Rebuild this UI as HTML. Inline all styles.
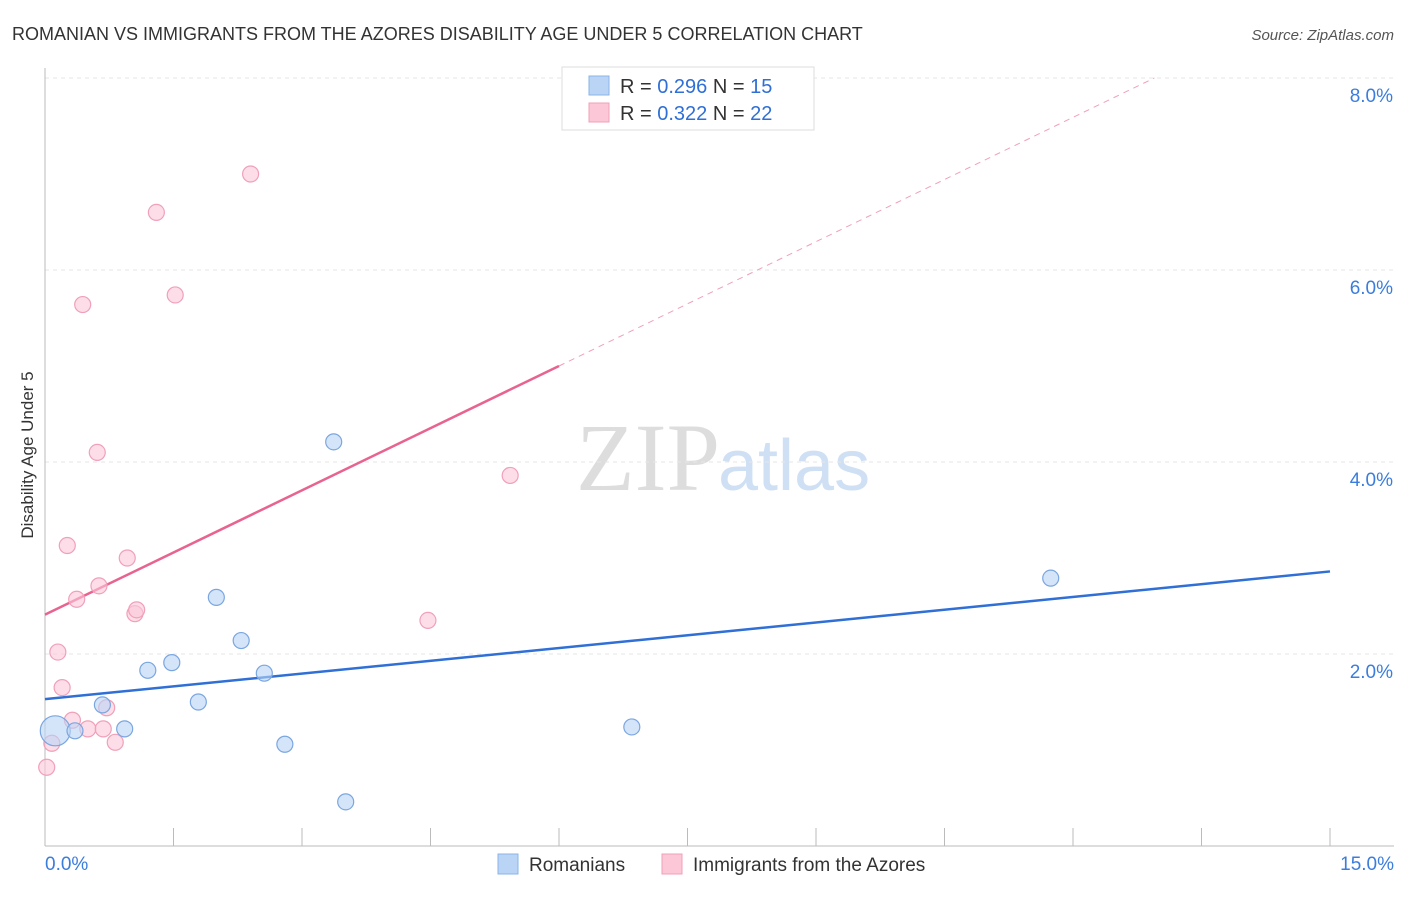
<!DOCTYPE html>
<html><head><meta charset="utf-8"><style>
body{margin:0;background:#fff;font-family:"Liberation Sans",sans-serif;}
</style></head><body>
<svg width="1406" height="892" xmlns="http://www.w3.org/2000/svg" font-family="Liberation Sans, sans-serif">
<text x="12" y="40" font-size="18" fill="#333">ROMANIAN VS IMMIGRANTS FROM THE AZORES DISABILITY AGE UNDER 5 CORRELATION CHART</text>
<text x="1394" y="40" font-size="15" fill="#555" text-anchor="end" font-style="italic">Source: ZipAtlas.com</text>
<text x="33" y="455" font-size="17" fill="#333" text-anchor="middle" transform="rotate(-90 33 455)">Disability Age Under 5</text>
<text x="720" y="490" font-size="96" fill="#ddd" text-anchor="end" font-family="Liberation Serif, serif">ZIP</text>
<text x="718" y="490" font-size="72" fill="#cfe0f5">atlas</text>
<g id="grid"></g><g id="axes"></g><g id="lines"></g><g id="points"></g>
<g>
<rect x="562" y="67" width="252" height="63" fill="#fff" stroke="#ddd"/>
<rect x="589" y="76" width="20" height="19" fill="#b9d4f5" stroke="#8ab3e6"/>
<text x="620" y="93" font-size="20" fill="#333">R = <tspan fill="#2f6fd6">0.296</tspan>   N = <tspan fill="#2f6fd6">15</tspan></text>
<rect x="589" y="103" width="20" height="19" fill="#fcc8d8" stroke="#f0a0b8"/>
<text x="620" y="120" font-size="20" fill="#333">R = <tspan fill="#2f6fd6">0.322</tspan>   N = <tspan fill="#2f6fd6">22</tspan></text>
</g>
<g>
<rect x="498" y="854" width="20" height="20" fill="#b9d4f5" stroke="#8ab3e6"/>
<text x="529" y="871" font-size="19" fill="#333">Romanians</text>
<rect x="662" y="854" width="20" height="20" fill="#fcc8d8" stroke="#f0a0b8"/>
<text x="693" y="871" font-size="19" fill="#333">Immigrants from the Azores</text>
</g>
</svg>
<script>
const blueX=[0.12,0.35,0.67,0.93,1.2,1.48,1.79,2.0,2.29,2.56,2.8,3.37,3.51,6.85,11.74];
const blueY=[1.20,1.20,1.47,1.22,1.83,1.91,1.50,2.59,2.14,1.80,1.06,4.21,0.46,1.24,2.79];
const pinkX=[0.02,0.08,0.15,0.2,0.26,0.32,0.37,0.44,0.5,0.61,0.63,0.68,0.72,0.82,0.96,1.05,1.07,1.3,1.52,2.4,4.47,5.43];
const pinkY=[0.82,1.07,2.02,1.65,3.13,1.31,2.57,5.64,1.22,4.1,2.71,1.22,1.44,1.08,3.0,2.42,2.46,6.6,5.74,7.0,2.35,3.86];
const blueTrend=[1.53,2.86];
const pinkTrend=[2.41,5.0];
const yTicks=[2,4,6,8];
const xTickLabels=["0.0%","15.0%"];
const NS="http://www.w3.org/2000/svg";
const sx=v=>45+v/15*1285, sy=v=>846-v*96;
function mk(p,t,a){const e=document.createElementNS(NS,t);for(const k in a)e.setAttribute(k,a[k]);document.getElementById(p).appendChild(e);return e;}
yTicks.forEach(t=>{
 const g=mk('grid','line',{x1:45,x2:1394,y1:sy(t),y2:sy(t),stroke:'#e6e6e6','stroke-dasharray':'4,4'});
 
 
 const l=mk('grid','text',{x:1393,y:sy(t)+24,'font-size':19,fill:'#3b7ddd','text-anchor':'end'});
 l.textContent=t.toFixed(1)+'%';
 
 
});
const ax=mk('axes','line',{x1:45,x2:1394,y1:846,y2:846,stroke:'#bbb'});


const ay=mk('axes','line',{x1:45,x2:45,y1:68,y2:846,stroke:'#bbb'});


for(let i=0;i<=10;i++){const t=mk('axes','line',{x1:sx(i*1.5),x2:sx(i*1.5),y1:828,y2:846,stroke:'#bbb'});
 
 }
[[0,'start',45],[1,'end',1394]].forEach(([i,a,x])=>{const t=mk('axes','text',{x:x,y:870,'font-size':19,fill:'#3b7ddd','text-anchor':a});t.textContent=xTickLabels[i];
 
 });
const bl=mk('lines','line',{x1:sx(0),y1:sy(blueTrend[0]),x2:sx(15),y2:sy(blueTrend[1]),stroke:'#2f6fd6','stroke-width':2.5});


const slope=(pinkTrend[1]-pinkTrend[0])/6;
const pl=mk('lines','line',{x1:sx(0),y1:sy(pinkTrend[0]),x2:sx(6),y2:sy(pinkTrend[1]),stroke:'#e8638f','stroke-width':2.5});


const xe=(8-pinkTrend[0])/slope;
const pd=mk('lines','line',{x1:sx(6),y1:sy(pinkTrend[1]),x2:sx(xe),y2:sy(8),stroke:'#f0a0b8','stroke-width':1,'stroke-dasharray':'6,5'});


pinkX.forEach((x,i)=>{const c=mk('points','circle',{cx:sx(x),cy:sy(pinkY[i]),r:8,fill:'rgba(252,200,216,0.6)',stroke:'#f0a0b8','stroke-width':1.2});
 
 });
blueX.forEach((x,i)=>{const c=mk('points','circle',{cx:sx(x),cy:sy(blueY[i]),r:i==0?15:8,fill:'rgba(185,212,245,0.6)',stroke:'#7aa6e0','stroke-width':1.2});
 
 });
</script>
</body></html>
